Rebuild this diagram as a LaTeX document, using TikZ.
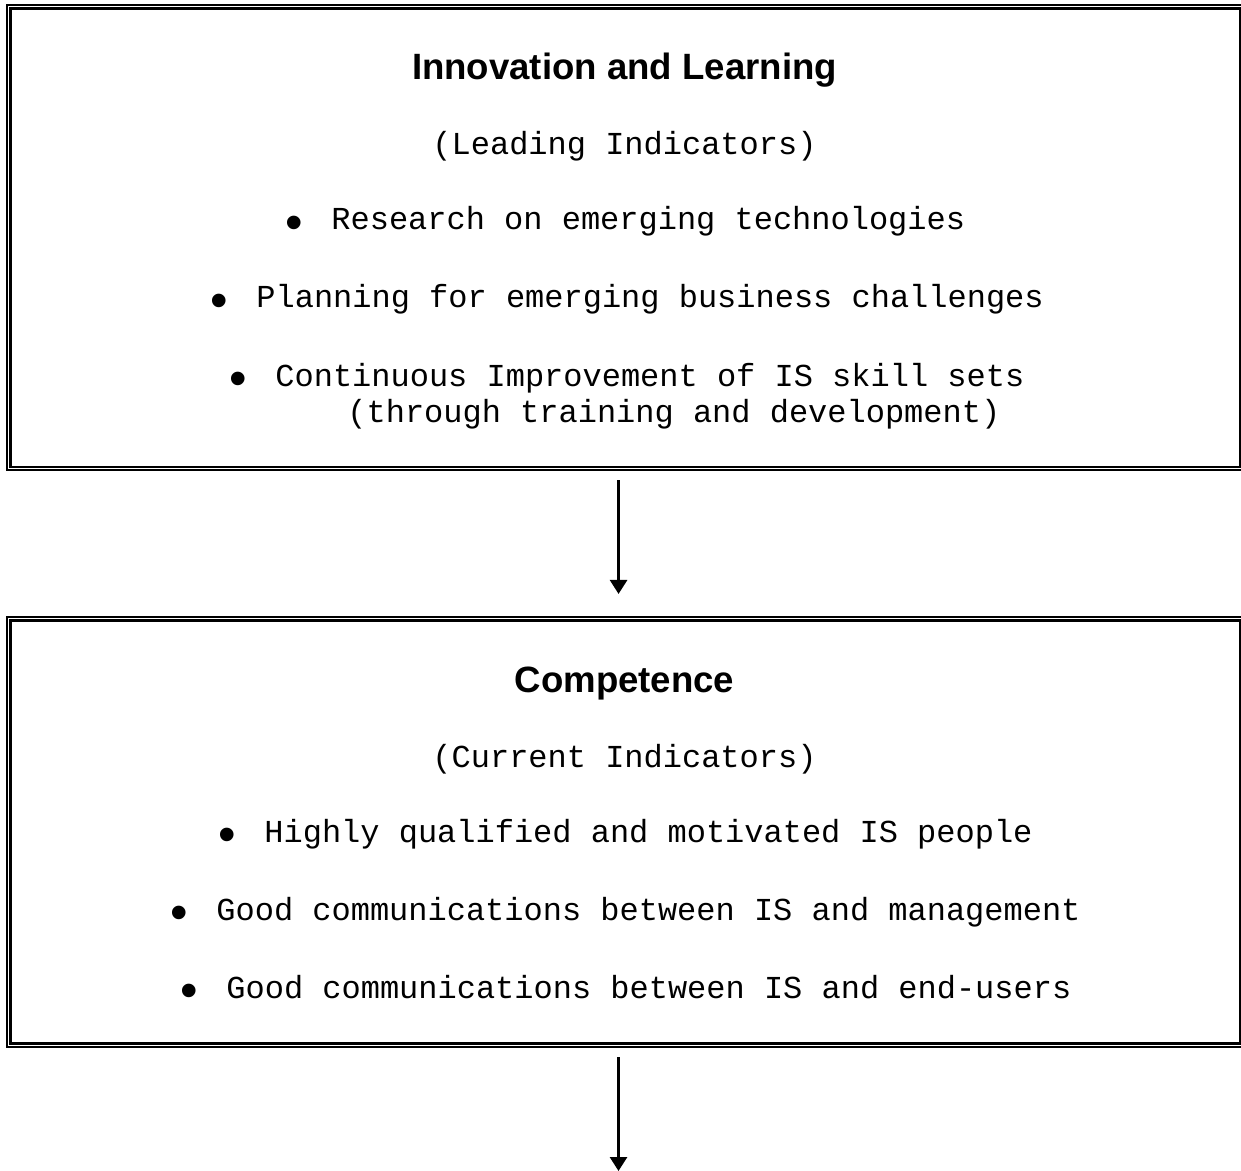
\documentclass[tikz,border=0pt]{standalone}
\usepackage{fontspec}
\setmainfont{Liberation Sans}
\newfontfamily\monof{Liberation Mono}
\newfontfamily\headf{Liberation Sans}
\usetikzlibrary{arrows.meta}
\newcommand\bulmark{\makebox[22.5pt][l]{\hspace*{-0.6pt}\raisebox{-4.9pt}{\headf\fontsize{25}{25}\selectfont\textbullet}}}
\begin{document}
\begin{tikzpicture}[x=0.5pt,y=-0.5pt,
  box/.style={draw, line width=1.1pt, double, double distance=0.6pt, inner sep=0pt, outer sep=0pt, anchor=north west},
  title/.style={anchor=base, inner sep=0pt, font=\headf\bfseries\fontsize{18.3}{22}\selectfont},
  sub/.style={anchor=base, inner sep=0pt, font=\monof\fontsize{16}{18}\selectfont},
  item/.style={anchor=base west, inner sep=0pt, font=\monof\fontsize{16}{18}\selectfont},
  arr/.style={line width=1.4pt, -{Triangle[length=7pt,width=8.5pt]}}]
\useasboundingbox (0,0) rectangle (1241,1171);
% boxes
\node[box, minimum width=616.3pt, minimum height=230.9pt] (b1) at (8.75,6.75) {};
\node[box, minimum width=616.3pt, minimum height=213.25pt] (b2) at (8.75,618.75) {};
% box 1 text
\node[title] (t1) at (624.5,80) {Innovation and Learning};
\node[sub] (s1) at (624.5,155) {(Leading Indicators)};
\node[item] (i11) at (286,230) {\bulmark Research on emerging technologies};
\node[item] (i12) at (211,308) {\bulmark Planning for emerging business challenges};
\node[item, anchor=north west, align=left] (i13) at (230,362.5) {\bulmark Continuous Improvement of IS skill sets\\\hspace*{58.5pt}(through training and development)};
% box 2 text
\node[title] (t2) at (624.5,692) {Competence};
\node[sub] (s2) at (624.5,767) {(Current Indicators)};
\node[item] (i21) at (219,842) {\bulmark Highly qualified and motivated IS people};
\node[item] (i22) at (171,920) {\bulmark Good communications between IS and management};
\node[item] (i23) at (181,998) {\bulmark Good communications between IS and end-users};
% arrows
\coordinate (end) at (618.5,1171);
\draw[arr, shorten <=5.75pt, shorten >=12.4pt] ([xshift=-3.25pt]b1.south) -- ([xshift=-3.25pt]b2.north);
\draw[arr, shorten <=5.9pt] ([xshift=-3.25pt]b2.south) -- (end);
\end{tikzpicture}
\end{document}
